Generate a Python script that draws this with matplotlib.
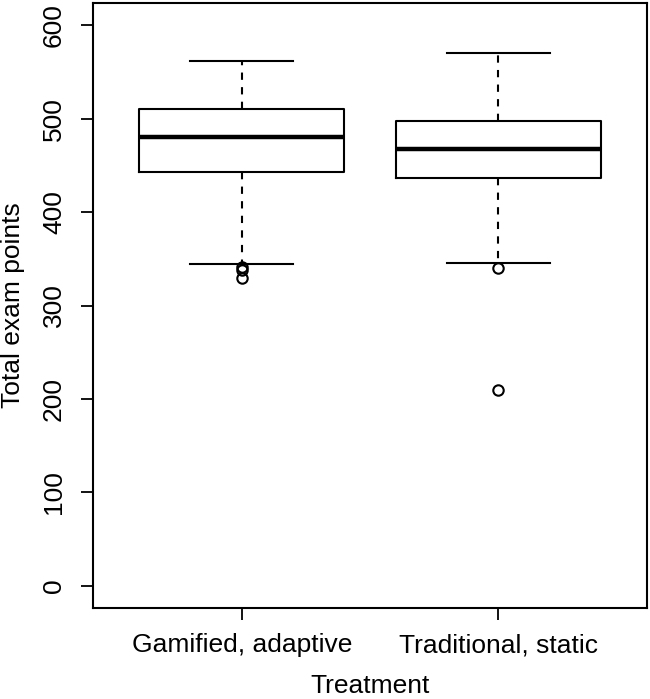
import matplotlib
matplotlib.use("Agg")
import matplotlib.pyplot as plt

categories = ["Gamified, adaptive", "Traditional, static"]
whisker_low = [344, 345]
q1 = [443.5, 436.5]
median = [481, 468]
q3 = [510, 498]
whisker_high = [562, 570]
outliers = [[341, 338, 329], [340, 210]]
yticks = [0, 100, 200, 300, 400, 500, 600]

plt.rcParams['font.family'] = ['Liberation Sans', 'DejaVu Sans']

fig = plt.figure(figsize=(6.5, 6.99), dpi=100)
ax = fig.add_axes([93/650, 1-608/699, (647-93)/650, (608-3)/699])

stats = []
for i, c in enumerate(categories):
    stats.append(dict(label=c, whislo=whisker_low[i], q1=q1[i], med=median[i],
                      q3=q3[i], whishi=whisker_high[i], fliers=outliers[i]))

lw = 1.5
ax.bxp(stats, positions=[1, 2], widths=0.8, showfliers=True,
       boxprops=dict(color='black', linewidth=lw),
       medianprops=dict(color='black', linewidth=3.2, solid_capstyle='butt'),
       whiskerprops=dict(color='black', linewidth=lw, linestyle=(0, (3.5, 3.5))),
       capprops=dict(color='black', linewidth=lw),
       capwidths=0.4,
       flierprops=dict(marker='o', markerfacecolor='none', markeredgecolor='black',
                       markersize=7.5, markeredgewidth=1.5))

ax.set_xlim(0.42, 2.58)
ax.set_ylim(-24, 624)
ax.set_yticks(yticks)
ax.set_yticklabels([str(v) for v in yticks], rotation=90, va='center')
ax.set_xticks([1, 2])
ax.set_xticklabels(categories)
ax.tick_params(axis='both', labelsize=19, length=8.5, width=1.3, color='black')
ax.tick_params(axis='y', pad=11)
ax.tick_params(axis='x', pad=9.5)
for s in ax.spines.values():
    s.set_linewidth(1.5)
ax.set_ylabel("Total exam points", fontsize=19, labelpad=12)
ax.set_xlabel("Treatment", fontsize=19, labelpad=12.5)

fig.savefig("out.png", dpi=100)
